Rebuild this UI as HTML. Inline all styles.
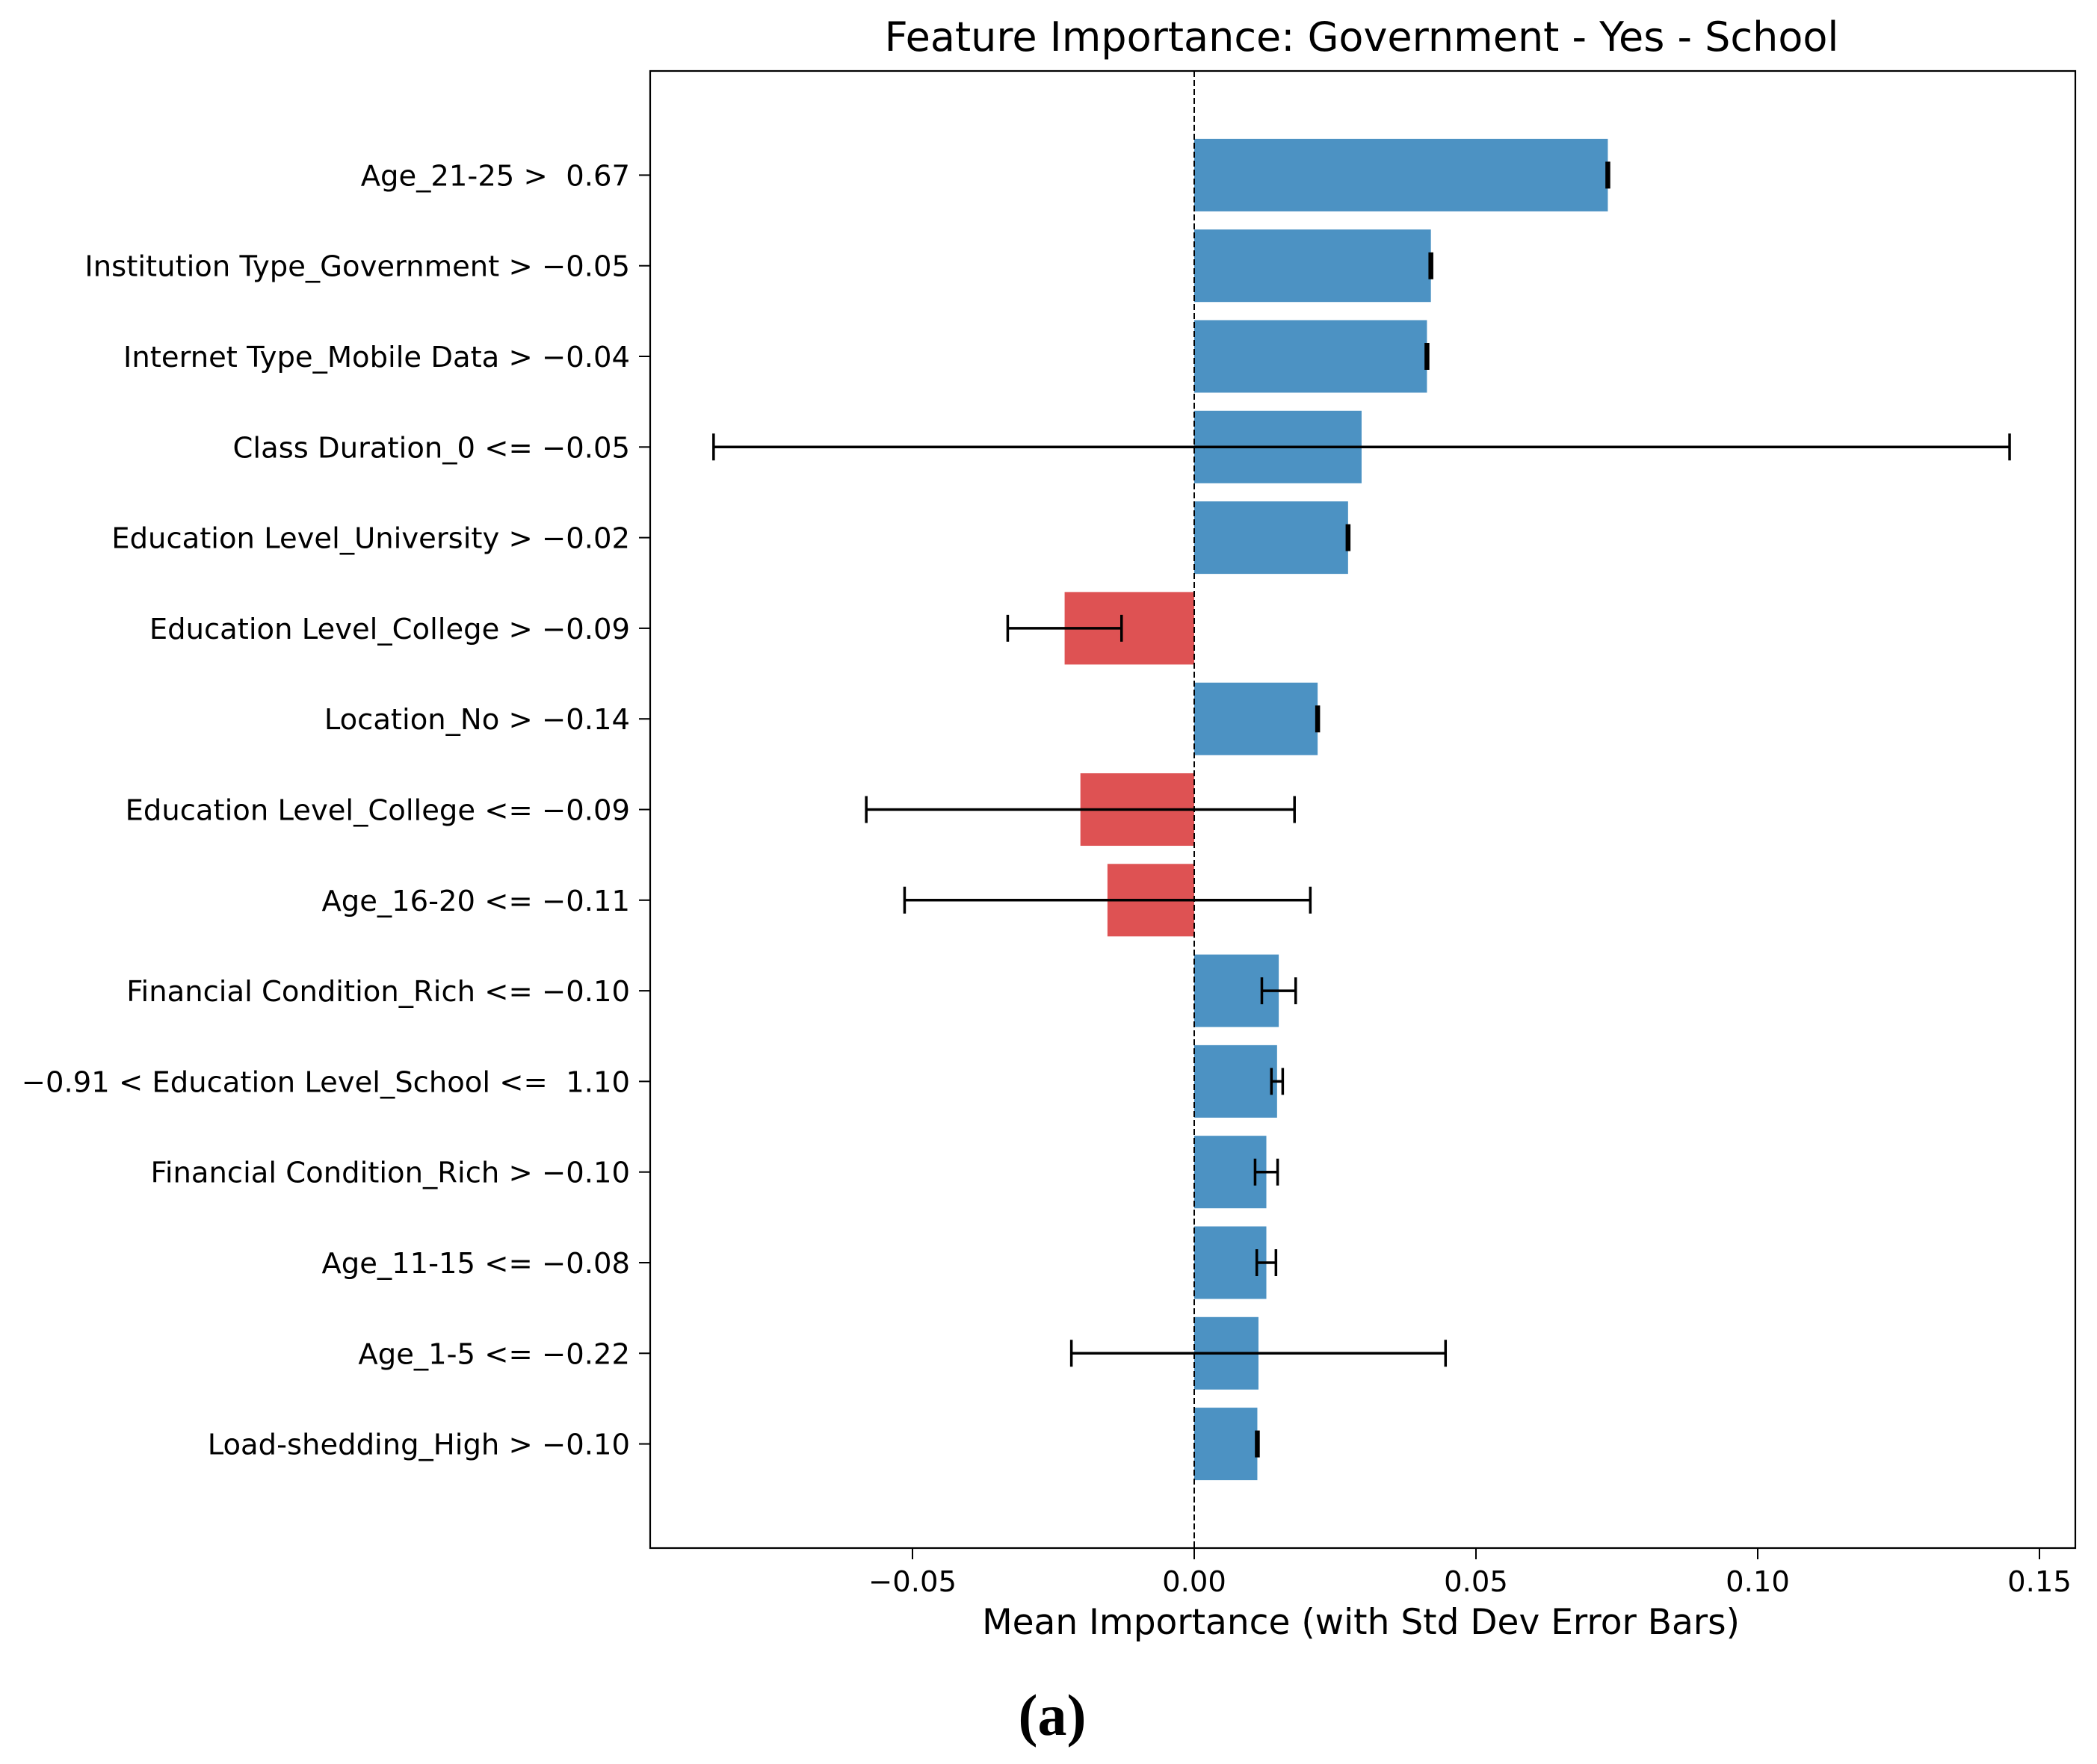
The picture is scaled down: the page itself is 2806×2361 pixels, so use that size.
<!DOCTYPE html>
<html><head><meta charset="utf-8"><style>
html,body{margin:0;padding:0;background:#fff;}
svg{display:block;font-family:"DejaVu Sans","Liberation Sans",sans-serif;}
text{white-space:pre;}
</style></head><body>
<svg id="chart" width="2806" height="2361" viewBox="0 0 2806 2361">
<rect width="2806" height="2361" fill="#fff"/>
<text x="1822" y="68" font-size="54" text-anchor="middle" fill="#000">Feature Importance: Government - Yes - School</text>
<g id="plot"></g>
<text x="1821" y="2187" font-size="47" text-anchor="middle" fill="#000">Mean Importance (with Std Dev Error Bars)</text>
<text x="1408" y="2322" font-size="78" font-weight="bold" text-anchor="middle" font-family="Liberation Serif, serif" fill="#000">(a)</text>
</svg>
<script>
const features = ["Age_21-25 >  0.67","Institution Type_Government > \u22120.05","Internet Type_Mobile Data > \u22120.04","Class Duration_0 <= \u22120.05","Education Level_University > \u22120.02","Education Level_College > \u22120.09","Location_No > \u22120.14","Education Level_College <= \u22120.09","Age_16-20 <= \u22120.11","Financial Condition_Rich <= \u22120.10","\u22120.91 < Education Level_School <=  1.10","Financial Condition_Rich > \u22120.10","Age_11-15 <= \u22120.08","Age_1-5 <= \u22120.22","Load-shedding_High > \u22120.10"];
const means = [0.0734,0.0420,0.0413,0.0297,0.0273,-0.0230,0.0219,-0.0202,-0.0154,0.0150,0.0147,0.0128,0.0128,0.0114,0.0112];
const stds = [0.0002,0.0002,0.0002,0.1150,0.0002,0.0101,0.0002,0.0380,0.0360,0.0030,0.0010,0.0020,0.0017,0.0332,0.0002];
const xTicks = [-0.05,0,0.05,0.10,0.15];
const xTickLabels = ["\u22120.05","0.00","0.05","0.10","0.15"];

const NS="http://www.w3.org/2000/svg";
const g=document.getElementById('plot');
const L=870,R=2777,T=95,B=2072;
const x0=1598, pxPerUnit=377/0.05;
const X=v=>x0+v*pxPerUnit;
const y0=234.4, step=121.3;
const Y=i=>y0+i*step;
const barH=step*0.8;
function mk(tag,attrs){const e=document.createElementNS(NS,tag);for(const k in attrs)e.setAttribute(k,attrs[k]);g.appendChild(e);return e;}

features.forEach((f,i)=>{
  const m=means[i], yc=Y(i);
  const b=mk('rect',{x:Math.min(X(0),X(m)),y:yc-barH/2,width:Math.abs(X(m)-X(0)),height:barH,fill:m>=0?'#4c92c3':'#de5253'});
  
  
  const lo=X(m-stds[i]), hi=X(m+stds[i]);
  const eb=mk('path',{d:`M${lo},${yc}H${hi}M${lo},${yc-18}V${yc+18}M${hi},${yc-18}V${yc+18}`,stroke:'#000','stroke-width':3.5,fill:'none'});
  
  
  const tk=mk('line',{x1:L-15,x2:L,y1:yc,y2:yc,stroke:'#000','stroke-width':2});
  
  
  const t=mk('text',{x:L-27,y:yc+14,'font-size':38.5,'text-anchor':'end',fill:'#000'});
  t.textContent=f;
  
  
});
const zl=mk('line',{x1:X(0),x2:X(0),y1:T,y2:B,stroke:'#000','stroke-width':2,'stroke-dasharray':'8,4'});


xTicks.forEach((v,i)=>{
  const tk=mk('line',{x1:X(v),x2:X(v),y1:B,y2:B+15,stroke:'#000','stroke-width':2});
  
  
  const t=mk('text',{x:X(v),y:B+58,'font-size':38.5,'text-anchor':'middle',fill:'#000'});
  t.textContent=xTickLabels[i];
  
  
});
const fr=mk('rect',{x:L,y:T,width:R-L,height:B-T,fill:'none',stroke:'#000','stroke-width':2.2});


</script>
</body></html>
